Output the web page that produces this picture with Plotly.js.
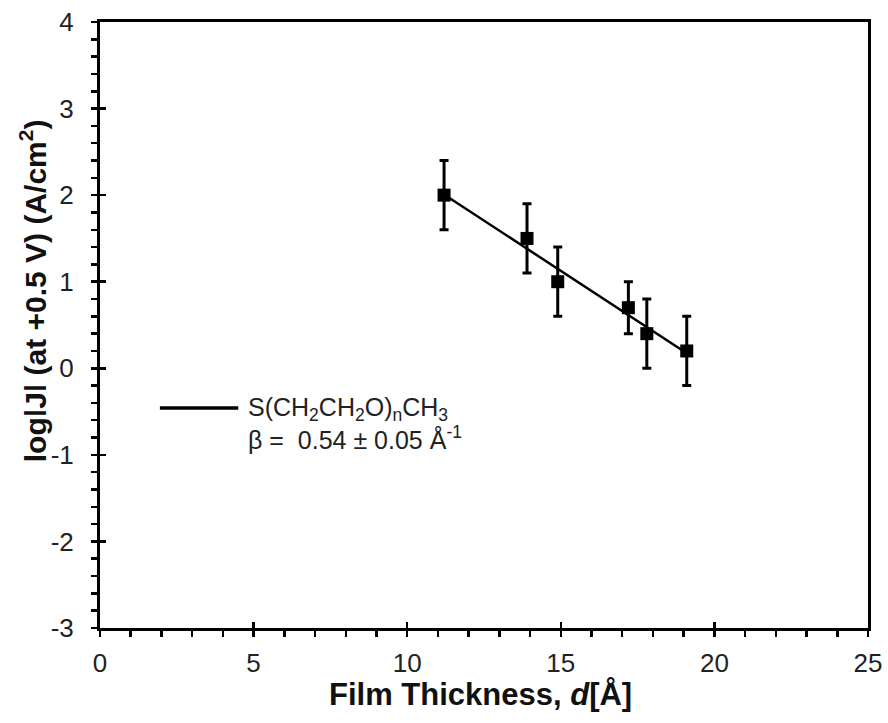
<!DOCTYPE html>
<html><head><meta charset="utf-8">
<script src="https://cdn.plot.ly/plotly-3.0.1.min.js"></script>
<style>body{margin:0;background:#fff}#c{width:888px;height:723px}</style>
</head><body><div id="c"></div>
<script>
const thickness = [11.2, 13.9, 14.9, 17.2, 17.8, 19.1];
const logJ = [2.0, 1.5, 1.0, 0.7, 0.4, 0.2];
const errJ = [0.4, 0.4, 0.4, 0.3, 0.4, 0.4];
const xTicks = [0, 5, 10, 15, 20, 25];
const yTicks = [-3, -2, -1, 0, 1, 2, 3, 4];
const seriesName = 'S(CH<sub>2</sub>CH<sub>2</sub>O)<sub>n</sub>CH<sub>3</sub>';
const betaText = 'β =  0.54 ± 0.05 Å<sup>-1</sup>';
const xTitle = '<b>Film Thickness, <i>d</i>[Å]</b>';
const yTitle = '<b>logǀJǀ (at +0.5 V) (A/cm<sup>2</sup>)</b>';

// least-squares fit through the data
const n = thickness.length;
const mx = thickness.reduce((a,b)=>a+b,0)/n, my = logJ.reduce((a,b)=>a+b,0)/n;
let sxy=0, sxx=0;
for (let i=0;i<n;i++){ sxy+=(thickness[i]-mx)*(logJ[i]-my); sxx+=(thickness[i]-mx)**2; }
const slope = sxy/sxx, icpt = my - slope*mx;
const fitX = [Math.min(...thickness), Math.max(...thickness)];
const fitY = fitX.map(x=>icpt+slope*x);

const font = 'Liberation Sans, Arial, sans-serif';
const traces = [
  {x: fitX, y: fitY, mode:'lines', line:{color:'#000', width:2.5}, showlegend:false, hoverinfo:'skip'},
  {x: thickness, y: logJ, mode:'markers', marker:{symbol:'square', size:13, color:'#000'},
   error_y:{type:'data', array: errJ, visible:true, color:'#000', thickness:3, width:4.5}, showlegend:false},
  {x:[null], y:[null], xaxis:'x2', yaxis:'y2', showlegend:false}
];
const axBase = {showgrid:false, zeroline:false, linecolor:'#000', linewidth:3};
const layout = {
  width:888, height:723, margin:{l:100, r:20, t:22, b:95},
  paper_bgcolor:'#fff', plot_bgcolor:'#fff', font:{family:font, color:'#222'},
  xaxis: Object.assign({}, axBase, {range:[0,25], tickvals:xTicks, ticktext:xTicks.map(String),
    ticks:'outside', ticklen:6, tickwidth:2.5, tickcolor:'#000', mirror:true, ticklabelstandoff:4,
    minor:{dtick:1, ticks:'outside', ticklen:6, tickwidth:2.5, tickcolor:'#000'},
    tickfont:{size:26, color:'#222'}}),
  yaxis: Object.assign({}, axBase, {range:[-3,4], tickvals:yTicks, ticktext:yTicks.map(String),
    ticks:'outside', ticklen:6, tickwidth:2.5, tickcolor:'#000', mirror:true, ticklabelstandoff:12,
    minor:{dtick:0.2, ticks:'outside', ticklen:6, tickwidth:2.5, tickcolor:'#000'},
    tickfont:{size:26, color:'#222'}}),
  xaxis2: {overlaying:'x', range:[0,25], tickvals:xTicks, showticklabels:false, ticks:'inside', ticklen:6, tickwidth:2.5, tickcolor:'#000', showgrid:false, zeroline:false, showline:false},
  yaxis2: {overlaying:'y', range:[-3,4], tickvals:yTicks, showticklabels:false, ticks:'inside', ticklen:6, tickwidth:2.5, tickcolor:'#000', showgrid:false, zeroline:false, showline:false},
  shapes:[{type:'line', xref:'paper', yref:'paper', x0:0.078, x1:0.18, y0:0.363, y1:0.363, line:{color:'#000', width:3.5}}],
  annotations:[
    {xref:'paper', yref:'paper', x:0.19, y:0.338, xanchor:'left', yanchor:'middle', align:'left', text:seriesName + '<br>' + betaText, showarrow:false, font:{size:25, color:'#222'}},
    {xref:'paper', yref:'paper', x:0.496, y:-0.109, xanchor:'center', yanchor:'middle', text:xTitle, showarrow:false, font:{size:31, color:'#111'}},
    {xref:'paper', yref:'paper', x:-0.087, y:0.556, xanchor:'center', yanchor:'middle', textangle:-90, text:yTitle, showarrow:false, font:{size:30, color:'#111'}}
  ]
};
Plotly.newPlot('c', traces, layout, {displayModeBar:false, staticPlot:true});
</script></body></html>
